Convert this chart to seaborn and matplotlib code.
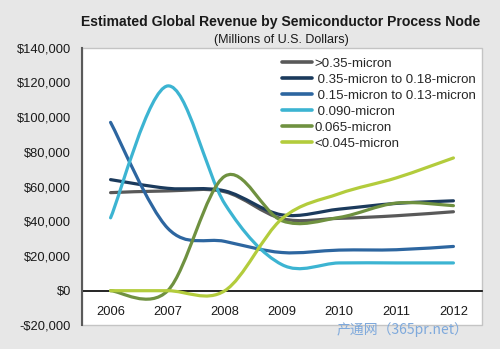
import numpy as np
import pandas as pd
import matplotlib
matplotlib.use("Agg")
import matplotlib.pyplot as plt
import seaborn as sns
from matplotlib.path import Path
from matplotlib.patches import PathPatch, Rectangle
from matplotlib.lines import Line2D
from matplotlib.ticker import FuncFormatter

# ---- data (millions of US$) ----
years = ["2006", "2007", "2008", "2009", "2010", "2011", "2012"]
series_names = [">0.35-micron", " 0.35-micron to 0.18-micron",
                " 0.15-micron to 0.13-micron", " 0.090-micron",
                "0.065-micron", "<0.045-micron"]
gt_035 = [56500, 57500, 57000, 41500, 41700, 43200, 45500]
n035_018 = [64000, 59000, 57500, 43700, 47000, 50300, 51800]
n015_013 = [97000, 36000, 28400, 22000, 23400, 23600, 25500]
n090 = [42000, 118000, 50000, 15000, 16000, 16000, 16000]
n065 = [0, 0, 66000, 40300, 42200, 50500, 49000]
lt045 = [0, 0, 0, 41500, 55900, 65000, 76500]
series_values = [gt_035, n035_018, n015_013, n090, n065, lt045]
colors = ["#595959", "#1b3a5c", "#2d66a0", "#3cb4d2", "#6f9140", "#b3cc3c"]
y_ticks = [-20000, 0, 20000, 40000, 60000, 80000, 100000, 120000, 140000]

title = "Estimated Global Revenue by Semiconductor Process Node"
subtitle = "(Millions of U.S. Dollars)"
watermark = "产通网（365pr.net）"

sns.set_theme(style="white")
plt.rcParams["font.family"] = ["Liberation Sans", "Noto Sans CJK SC", "DejaVu Sans"]

bg = "#e7e7e7"
fig = plt.figure(figsize=(5.0, 3.49), dpi=100, facecolor=bg)
ax = fig.add_axes([0.164, 0.0676, 0.8, 0.7956])
ax.set_facecolor("white")

df = pd.DataFrame({
    "Year": np.tile(np.arange(len(years)), len(series_names)),
    "Revenue": np.concatenate([np.asarray(v, dtype=float) for v in series_values]),
    "Node": np.repeat(series_names, len(years)),
})
palette = dict(zip(series_names, colors))
sns.lineplot(data=df, x="Year", y="Revenue", hue="Node", hue_order=series_names,
             palette=palette, linewidth=2.2, legend=False, ax=ax)


def smooth_path(x, y):
    pts = np.column_stack([x, y]).astype(float)
    n = len(pts)
    verts = [pts[0]]
    codes = [Path.MOVETO]
    for i in range(n - 1):
        p0 = pts[i - 1] if i > 0 else pts[i]
        p1 = pts[i]
        p2 = pts[i + 1]
        p3 = pts[i + 2] if i + 2 < n else pts[i + 1]
        verts += [p1 + (p2 - p0) / 6.0, p2 - (p3 - p1) / 6.0, p2]
        codes += [Path.CURVE4] * 3
    return Path(verts, codes)


# smooth (Excel-style) rendering of the seaborn lines
for line in list(ax.lines):
    x, y = line.get_xdata(), line.get_ydata()
    patch = PathPatch(smooth_path(x, y), facecolor="none", edgecolor=line.get_color(),
                      linewidth=2.3, capstyle="round", joinstyle="round", zorder=3)
    ax.add_patch(patch)
    line.set_visible(False)

ax.set_xlim(-0.5, len(years) - 0.5)
ax.set_ylim(-20000, 140000)
ax.set_xticks(range(len(years)))
ax.set_xticklabels(years)
ax.set_yticks(y_ticks)
ax.yaxis.set_major_formatter(FuncFormatter(
    lambda v, p: ("-$" if v < 0 else "$") + f"{abs(int(v)):,}"))
ax.set_xlabel("")
ax.set_ylabel("")
ax.tick_params(axis="x", length=0, pad=11, labelsize=9.3, colors="#1a1a1a")
ax.tick_params(axis="y", length=0, pad=8, labelsize=9.3, colors="#1a1a1a")

for s in ["top", "right"]:
    ax.spines[s].set_visible(False)
ax.spines["bottom"].set_position(("data", 0))
ax.spines["bottom"].set_color("black")
ax.spines["bottom"].set_linewidth(1.2)
ax.spines["left"].set_color("#5a5a5a")
ax.spines["left"].set_linewidth(1.5)
ax.spines["left"].set_zorder(5)
ax.add_patch(Rectangle((0, 0), 1, 1, transform=ax.transAxes, fill=False,
                       edgecolor="#c4c4c4", linewidth=1.0, clip_on=False, zorder=0.5))

handles = [Line2D([0], [0], color=c, lw=2.6) for c in colors]
ax.legend(handles, series_names, loc="upper left", bbox_to_anchor=(0.5, 0.965),
          frameon=False, borderpad=0, borderaxespad=0, handlelength=2.3,
          handletextpad=0.15, labelspacing=0.29, fontsize=9.5)

fig.text(0.562, 1 - 21.7 / 349, title, ha="center", va="center",
         fontweight="bold", fontsize=10.1, color="#1a1a1a")
fig.text(0.562, 1 - 40 / 349, subtitle, ha="center", va="center",
         fontsize=9.0, color="#1a1a1a")
fig.text(0.804, 1 - 330 / 349, watermark, ha="center", va="center",
         fontsize=10.0, color="#7ea9dc", family=["Noto Sans CJK SC", "DejaVu Sans"])

fig.savefig("out.png", dpi=100, facecolor=bg)
